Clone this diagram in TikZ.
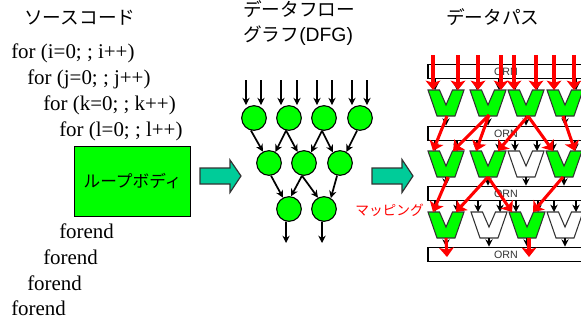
\documentclass[tikz,border=0pt]{standalone}
\usepackage{fontspec}
\setmainfont{Liberation Serif}
\setsansfont{Liberation Sans}
\newfontfamily\jp{Noto Sans CJK JP}
\usetikzlibrary{arrows.meta,calc}
\definecolor{pegreen}{RGB}{0,255,0}
\definecolor{teal}{RGB}{0,204,153}
\tikzset{
  code/.style={font=\fontsize{15.7}{18}\selectfont,anchor=base west,inner sep=0pt},
  title/.style={font=\jp\fontsize{14}{16}\selectfont,anchor=base west,inner sep=0pt},
  dfg/.style={circle,draw=black,line width=0.8pt,fill=pegreen,minimum size=18.5pt,inner sep=0pt},
  blk/.style={black,line width=1.3pt,-{Stealth[length=5.5pt,width=5.5pt]}},
  redarrow/.style={red,line width=2.3pt,-{Stealth[length=7pt,width=11pt,inset=1.5pt]}},
  bar/.style={draw=black,line width=1.2pt,fill=white,minimum width=117pt,minimum height=10.6pt,inner sep=0pt,font=\sffamily\fontsize{8}{9}\selectfont,text=black!80},
  bigarrow/.style={draw=black!80,line width=0.9pt,fill=teal},
}
\newcommand{\PE}[4]{% name, x, y, fill
  \fill[#4,draw=black!80,line width=0.8pt] (#2-18,#3) -- (#2-9,#3+26) -- (#2+9,#3+26) -- (#2+18,#3) -- (#2+6.5,#3) -- (#2,#3+15) -- (#2-6.5,#3) -- cycle;
  \coordinate (#1-l) at (#2-11,#3);
  \coordinate (#1-r) at (#2+11,#3);
  \coordinate (#1-b) at (#2,#3+26);
}
\begin{document}
\begin{tikzpicture}[x=0.75pt,y=-0.75pt]
\useasboundingbox (0,0) rectangle (581,322);
\clip (0,0) rectangle (581,322);
% source
\node[title] (t1) at (24,24) {ソースコード};
\node[code] (c1) at (11,58) {for (i=0; ; i++)};
\node[code] (c2) at (27,84) {for (j=0; ; j++)};
\node[code] (c3) at (43,110) {for (k=0; ; k++)};
\node[code] (c4) at (59,136) {for (l=0; ; l++)};
\node[draw=black,line width=0.9pt,fill=pegreen,minimum width=87.5pt,minimum height=53pt,inner sep=0pt,font=\jp\fontsize{12.5}{14}\selectfont] (body) at (132.5,181.5) {\raisebox{-1pt}{ループボディ}};
\node[code] (e1) at (59,238) {forend};
\node[code] (e2) at (43,264) {forend};
\node[code] (e3) at (27,290) {forend};
\node[code] (e4) at (11,315) {forend};
% big arrows
\draw[bigarrow] (200,168) -- (230,168) -- (230,160) -- (241,176) -- (230,192.5) -- (230,184) -- (200,184) -- cycle;
\draw[bigarrow] (372,168) -- (402,168) -- (402,159.5) -- (413,176) -- (402,192.5) -- (402,184) -- (372,184) -- cycle;
% DFG
\node[title] (t2) at (243,16) {データフロー};
\node[title] (t3) at (243,41) {グラフ{\sffamily\fontsize{14.5}{16}\selectfont (DFG)}};
\foreach \n/\x/\y in {n11/254/118,n12/289/118,n13/324/118,n14/360/118,n21/269/163,n22/304/163,n23/340/163,n31/289/209,n32/324/209}
  \node[dfg] (\n) at (\x,\y) {};
\foreach \x/\t in {246/n11,261/n11,281/n12,297/n12,317/n13,332/n13,352/n14,367/n14}{
  \coordinate (in\x) at (\x,80);
  \draw[blk] (in\x) -- (in\x |- \t.north);
}
\coordinate (o1) at (286,243);
\coordinate (o2) at (322,243);
\draw[blk] (n31.-103) -- (o1);
\draw[blk] (n32.-99) -- (o2);
\draw[blk] (n11.-104) -- (n21.118);
\draw[blk] (n12.-103) -- (n21.60);
\draw[blk] (n12.-103) -- (n22.120);
\draw[blk] (n13.-99) -- (n22.56);
\draw[blk] (n13.-99) -- (n23.124);
\draw[blk] (n14.-103) -- (n23.60);
\draw[blk] (n21.-81) -- (n31.118);
\draw[blk] (n22.-99) -- (n31.81);
\draw[blk] (n22.-99) -- (n32.118);
\draw[blk] (n23.-103) -- (n32.58);
% datapath
\node[title] (t4) at (446,24) {データパス};
\node[bar] (b1) at (506,71.5) {ORN};
\node[bar] (b2) at (506,133.5) {ORN};
\node[bar] (b3) at (506,193.5) {ORN};
\node[bar] (b4) at (506,254.5) {ORN};
\PE{p11}{446}{90}{pegreen}
\PE{p12}{488}{90}{pegreen}
\PE{p13}{526}{90}{pegreen}
\PE{p14}{565}{90}{pegreen}
\PE{p21}{446}{151}{pegreen}
\PE{p22}{488}{151}{pegreen}
\PE{p23}{526}{151}{white}
\PE{p24}{564}{151}{pegreen}
\PE{p31}{446}{212}{pegreen}
\PE{p32}{489}{212}{white}
\PE{p33}{527}{212}{pegreen}
\PE{p34}{565}{212}{white}
% black connectors
\foreach \r/\b in {1/1,2/2,3/3}{
  \foreach \c in {1,2,3,4}{
    \draw[blk] (p\r\c-l |- b\b.south) -- (p\r\c-l);
    \draw[blk] (p\r\c-r |- b\b.south) -- (p\r\c-r);
  }
}
\foreach \r/\b in {1/2,2/3,3/4}{
  \foreach \c in {1,2,3,4}
    \draw[blk] (p\r\c-b) -- (p\r\c-b |- b\b.north);
}
% red mapping
\foreach \x/\p in {433/p11-l,458/p11-r,478/p12-l,501/p12-r,514/p13-l,536/p13-r,554/p14-l,574/p14-r}{
  \coordinate (r\x) at (\x,55);
  \draw[redarrow] (r\x) -- (r\x |- \p);
}
\draw[redarrow] ($(p11-b)+(1,0)$) -- ($(p21-l)+(-2,0)$);
\draw[redarrow] ($(p12-b)+(1,-1)$) -- ($(p21-r)+(-4,0)$);
\draw[redarrow] ($(p12-b)+(1,-1)$) -- ($(p22-l)+(-1,0)$);
\draw[redarrow] ($(p13-b)+(2,0)$) -- ($(p22-r)+(-1,0)$);
\draw[redarrow] ($(p13-b)+(2,0)$) -- ($(p24-l)+(0,0)$);
\draw[redarrow] ($(p14-b)+(-2,0)$) -- ($(p24-r)+(0,0)$);
\draw[redarrow] ($(p21-b)+(2,0)$) -- ($(p31-l)+(-2,0)$);
\draw[redarrow] ($(p22-b)+(0,0)$) -- ($(p31-r)+(-1,0)$);
\draw[redarrow] ($(p22-b)+(0,0)$) -- ($(p33-l)+(-4,0)$);
\draw[redarrow] ($(p24-b)+(-1,0)$) -- ($(p33-r)+(-5,0)$);
\coordinate (x1) at (447,257);
\coordinate (x2) at (529,257);
\draw[redarrow] (p31-b) -- (x1);
\draw[redarrow] ($(p33-b)+(2,0)$) -- (x2);
\node[font=\jp\fontsize{10.3}{12}\selectfont,text=red,inner sep=0pt,anchor=base west] (m) at (355,215) {マッピング};
\end{tikzpicture}
\end{document}
